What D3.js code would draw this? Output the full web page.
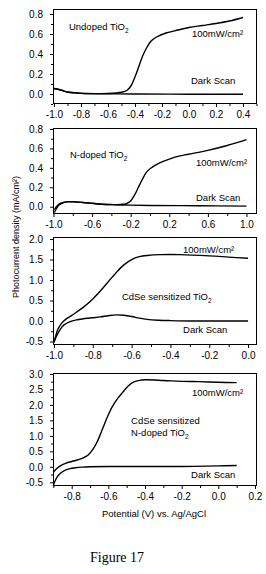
<!DOCTYPE html>
<html>
<head>
<meta charset="utf-8">
<script src="https://cdn.jsdelivr.net/npm/d3@7"></script>
<style>
  body { margin: 0; background: #fff; }
  svg { display: block; }
  .tick text { font-family: "Liberation Sans", Arial, sans-serif; font-size: 10px; fill: #000; }
  .tick line { stroke: #000; }
  .note { font-family: "Liberation Sans", Arial, sans-serif; font-size: 9.5px; fill: #000; }
  .curve { fill: none; stroke: #000; stroke-width: 1.4; }
</style>
</head>
<body>
<div id="wrapper"></div>
<script>
// curves: [potential (V), photocurrent (mA/cm2)]
const undopedLight = [[-1.0,0.055],[-0.95,0.04],[-0.9,0.02],[-0.8,0.008],[-0.7,0.004],[-0.6,0.005],[-0.5,0.017],[-0.46,0.035],[-0.43,0.08],[-0.4,0.17],[-0.37,0.28],[-0.34,0.39],[-0.31,0.47],[-0.28,0.53],[-0.24,0.57],[-0.17,0.61],[-0.08,0.64],[0.0,0.665],[0.1,0.685],[0.2,0.705],[0.3,0.73],[0.4,0.765]]
const undopedDark = [[-1.0,0.055],[-0.95,0.04],[-0.9,0.02],[-0.8,0.006],[-0.6,0.002],[-0.4,0.0],[0.0,-0.002],[0.4,-0.003]]

const ndopedLight = [[-0.99,-0.03],[-0.97,0.0],[-0.94,0.03],[-0.9,0.045],[-0.85,0.052],[-0.8,0.052],[-0.7,0.045],[-0.6,0.035],[-0.5,0.026],[-0.4,0.022],[-0.3,0.024],[-0.25,0.03],[-0.2,0.06],[-0.16,0.12],[-0.12,0.2],[-0.08,0.28],[-0.04,0.35],[0.0,0.39],[0.1,0.45],[0.2,0.49],[0.3,0.52],[0.4,0.54],[0.6,0.58],[0.8,0.63],[1.0,0.69]]
const ndopedDark = [[-0.99,-0.06],[-0.97,-0.02],[-0.94,0.02],[-0.9,0.04],[-0.85,0.05],[-0.8,0.05],[-0.7,0.043],[-0.6,0.034],[-0.5,0.026],[-0.4,0.021],[-0.3,0.018],[-0.2,0.016],[0.0,0.013],[0.5,0.01],[1.0,0.006]]

const cdseLight = [[-1.0,-0.52],[-0.99,-0.35],[-0.98,-0.2],[-0.96,-0.05],[-0.94,0.04],[-0.91,0.13],[-0.88,0.23],[-0.84,0.37],[-0.8,0.54],[-0.76,0.74],[-0.72,0.96],[-0.68,1.18],[-0.64,1.37],[-0.6,1.5],[-0.56,1.57],[-0.52,1.6],[-0.45,1.62],[-0.35,1.62],[-0.2,1.59],[-0.1,1.56],[0.0,1.53]]
const cdseDark = [[-1.0,-0.52],[-0.99,-0.4],[-0.97,-0.22],[-0.95,-0.1],[-0.92,-0.02],[-0.88,0.03],[-0.84,0.06],[-0.8,0.08],[-0.76,0.1],[-0.72,0.13],[-0.68,0.15],[-0.64,0.14],[-0.6,0.11],[-0.56,0.07],[-0.52,0.04],[-0.46,0.02],[-0.4,0.01],[-0.3,0.0],[-0.2,0.0],[0.0,0.0]]

const cdseNLight = [[-0.9,-0.18],[-0.88,-0.05],[-0.86,0.04],[-0.83,0.12],[-0.8,0.17],[-0.77,0.22],[-0.74,0.28],[-0.71,0.38],[-0.68,0.6],[-0.66,0.82],[-0.64,1.1],[-0.62,1.4],[-0.6,1.68],[-0.58,1.93],[-0.55,2.2],[-0.52,2.42],[-0.49,2.62],[-0.46,2.74],[-0.43,2.79],[-0.4,2.81],[-0.3,2.79],[-0.2,2.76],[-0.1,2.75],[0.0,2.73],[0.1,2.72]]
const cdseNDark = [[-0.9,-0.6],[-0.89,-0.45],[-0.88,-0.33],[-0.86,-0.2],[-0.84,-0.12],[-0.81,-0.06],[-0.78,-0.03],[-0.74,-0.01],[-0.7,0.0],[-0.6,0.01],[-0.4,0.01],[-0.2,0.01],[0.0,0.03],[0.1,0.04]]

// tick values
const p1XTicks = [-1.0,-0.8,-0.6,-0.4,-0.2,0.0,0.2,0.4]
const p1YTicks = [0.0,0.2,0.4,0.6,0.8]
const p2XTicks = [-1.0,-0.6,-0.2,0.2,0.6,1.0]
const p2YTicks = [0.0,0.2,0.4,0.6,0.8]
const p3XTicks = [-1.0,-0.8,-0.6,-0.4,-0.2,0.0]
const p3YTicks = [-0.5,0.0,0.5,1.0,1.5,2.0]
const p4XTicks = [-0.8,-0.6,-0.4,-0.2,0.0,0.2]
const p4YTicks = [-0.5,0.0,0.5,1.0,1.5,2.0,2.5,3.0]

const lightLabel = "100mW/cm²"
const darkLabel = "Dark Scan"

const width = 266
const height = 574
const left = 53
const right = 257

const panels = [
  { top: 9, bottom: 104, x: [-1.007, 0.504], y: [-0.10, 0.85],
    xTicks: p1XTicks, xMinor: 0.1, yTicks: p1YTicks, yMinor: 0.1,
    curves: [undopedLight, undopedDark],
    notes: [
      { t: ["Undoped TiO", "2"], at: [-0.889, 0.64] },
      { t: [lightLabel], at: [0.022, 0.57] },
      { t: [darkLabel], at: [0.015, 0.10] },
    ] },
  { top: 128, bottom: 214, x: [-1.005, 1.109], y: [-0.075, 0.81],
    xTicks: p2XTicks, xMinor: 0.2, yTicks: p2YTicks, yMinor: 0.1,
    curves: [ndopedLight, ndopedDark],
    notes: [
      { t: ["N-doped TiO", "2"], at: [-0.83, 0.50] },
      { t: [lightLabel], at: [0.477, 0.42] },
      { t: [darkLabel], at: [0.477, 0.06] },
    ] },
  { top: 237, bottom: 345, x: [-1.005, 0.046], y: [-0.585, 2.05],
    xTicks: p3XTicks, xMinor: 0.1, yTicks: p3YTicks, yMinor: 0.25,
    curves: [cdseLight, cdseDark],
    notes: [
      { t: [lightLabel], at: [-0.335, 1.66] },
      { t: ["CdSe sensitized TiO", "2"], at: [-0.65, 0.51] },
      { t: [darkLabel], at: [-0.335, -0.29] },
    ] },
  { top: 373, bottom: 486, x: [-0.902, 0.211], y: [-0.62, 3.03],
    xTicks: p4XTicks, xMinor: 0.1, yTicks: p4YTicks, yMinor: 0.25,
    curves: [cdseNLight, cdseNDark],
    notes: [
      { t: [lightLabel], at: [-0.144, 2.30] },
      { t: ["CdSe sensitized"], at: [-0.476, 1.37] },
      { t: ["N-doped TiO", "2"], at: [-0.476, 0.98] },
      { t: [darkLabel], at: [-0.149, -0.36] },
    ] },
]

const svg = d3.select("#wrapper")
  .append("svg")
  .attr("width", width)
  .attr("height", height)

const fmt = d => d.toFixed(1)

function minorTicks(domain, step, major) {
  const out = []
  const start = Math.ceil(domain[0] / step - 1e-6)
  const end = Math.floor(domain[1] / step + 1e-6)
  for (let i = start; i <= end; i++) {
    const v = +(i * step).toFixed(4)
    if (!major.some(m => Math.abs(m - v) < 1e-6)) out.push(v)
  }
  return out
}

panels.forEach(p => {
  const xScale = d3.scaleLinear().domain(p.x).range([left, right])
  const yScale = d3.scaleLinear().domain(p.y).range([p.bottom, p.top])
  const g = svg.append("g")

  // minor ticks first
  g.append("g")
    .attr("transform", `translate(0,${p.bottom})`)
    .call(d3.axisBottom(xScale).tickValues(minorTicks(p.x, p.xMinor, p.xTicks)).tickSize(2).tickFormat(""))
    .call(a => a.select(".domain").remove())
  g.append("g")
    .attr("transform", `translate(${left},0)`)
    .call(d3.axisLeft(yScale).tickValues(minorTicks(p.y, p.yMinor, p.yTicks)).tickSize(2).tickFormat(""))
    .call(a => a.select(".domain").remove())

  g.append("g")
    .attr("transform", `translate(0,${p.bottom})`)
    .call(d3.axisBottom(xScale).tickValues(p.xTicks).tickSize(3).tickPadding(4).tickFormat(fmt))
    .call(a => a.select(".domain").remove())
  g.append("g")
    .attr("transform", `translate(${left},0)`)
    .call(d3.axisLeft(yScale).tickValues(p.yTicks).tickSize(3).tickPadding(7).tickFormat(fmt))
    .call(a => a.select(".domain").remove())

  g.append("rect")
    .attr("x", left + 0.5)
    .attr("y", p.top + 0.5)
    .attr("width", right - left - 1)
    .attr("height", p.bottom - p.top - 1)
    .attr("fill", "none")
    .attr("stroke", "#000")
    .attr("stroke-width", 1)

  const line = d3.line()
    .x(d => xScale(d[0]))
    .y(d => yScale(d[1]))
    .curve(d3.curveCatmullRom.alpha(0.5))

  g.selectAll(".curve")
    .data(p.curves)
    .join("path")
    .attr("class", "curve")
    .attr("d", line)

  p.notes.forEach(n => {
    const t = g.append("text")
      .attr("class", "note")
      .attr("x", xScale(n.at[0]))
      .attr("y", yScale(n.at[1]))
    t.append("tspan").text(n.t[0])
    if (n.t[1]) {
      t.append("tspan").attr("dy", 2.5).attr("font-size", "6.5px").text(n.t[1])
    }
  })
})

svg.append("text")
  .attr("transform", `translate(19,237) rotate(-90)`)
  .attr("text-anchor", "middle")
  .style("font-family", "Liberation Sans, Arial, sans-serif")
  .style("font-size", "9px")
  .text("Photocurrent density (mA/cm²)")

svg.append("text")
  .attr("x", 154)
  .attr("y", 517)
  .attr("text-anchor", "middle")
  .style("font-family", "Liberation Sans, Arial, sans-serif")
  .style("font-size", "9.5px")
  .text("Potential (V) vs. Ag/AgCl")

svg.append("text")
  .attr("x", 117)
  .attr("y", 562)
  .attr("text-anchor", "middle")
  .style("font-family", "Liberation Serif, Times New Roman, serif")
  .style("font-size", "14px")
  .text("Figure 17")
</script>
</body>
</html>
